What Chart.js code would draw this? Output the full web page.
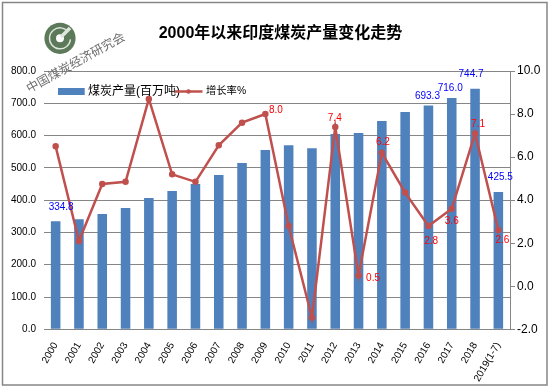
<!DOCTYPE html>
<html><head><meta charset="utf-8">
<style>html,body{margin:0;padding:0;background:#fff}#w{width:551px;height:390px;position:relative}</style>
<script src="https://cdn.jsdelivr.net/npm/chart.js@4/dist/chart.umd.js"></script>
</head><body><div id="w"><canvas id="c" width="551" height="390"></canvas></div>
<script>
const categories=["2000","2001","2002","2003","2004","2005","2006","2007","2008","2009","2010","2011","2012","2013","2014","2015","2016","2017","2018","2019(1-7)"];
const output=[334.8,341,357,376,407,428,450,478,515,555,570,561,605,608,645,673,693.3,716,744.7,425.5];
const growth=[6.5,2.1,4.75,4.85,8.7,5.2,4.85,6.55,7.6,8.0,2.8,-1.45,7.4,0.5,6.2,4.35,2.8,3.6,7.1,2.6];
const outputLabels={0:"334.8",16:"693.3",17:"716.0",18:"744.7",19:"425.5"};
const growthLabels={9:"8.0",12:"7.4",13:"0.5",14:"6.2",16:"2.8",17:"3.6",18:"7.1",19:"2.6"};
const outputOffsets={0:[5.5,-14],16:[-1,-9],17:[-1.5,-10],18:[-4,-15],19:[2,-15]};
const growthOffsets={9:[10.5,-4],12:[-0.5,-9],13:[14.5,3],14:[1,-10.5],16:[2.7,15],17:[0,12],18:[3,-9],19:[4,10]};
const leftTicks=["0.0","100.0","200.0","300.0","400.0","500.0","600.0","700.0","800.0"];
const titleText="2000年以来印度煤炭产量变化走势";
const wmText="中国煤炭经济研究会";
const FONT='"Liberation Sans","Noto Sans CJK SC",sans-serif';
const GRAY='#868686',BLUE='#4f81bd',RED='#c0504d';
const decor={id:'decor',
 beforeDraw(ch){const x=ch.ctx;x.save();x.fillStyle='#fff';x.fillRect(0,0,551,390);
  x.strokeStyle=GRAY;x.lineWidth=1.5;x.strokeRect(2.5,2.5,544.5,382.5);x.restore();},
 afterDraw(ch){const x=ch.ctx;x.save();
  // logo
  x.fillStyle='#5c7a5a';x.beginPath();x.arc(60,38.3,15.6,0,Math.PI*2);x.fill();
  x.strokeStyle='#dfe6dd';x.lineWidth=1.4;x.beginPath();x.arc(60,38.3,10.5,0.1,Math.PI*1.75);x.stroke();
  x.fillStyle='#fff';x.beginPath();x.arc(60,38.3,4,0,Math.PI*2);x.fill();
  x.strokeStyle='#dfe6dd';x.lineWidth=3.5;x.beginPath();x.moveTo(61,37);x.lineTo(70,28);x.stroke();
  // watermark
  x.translate(27,89);x.rotate(-29*Math.PI/180);x.fillStyle='#6f6f6f';x.font='12.3px "Noto Sans CJK SC",serif';x.textAlign='left';x.textBaseline='middle';x.fillText(wmText,0,0);
  x.restore();
  // data labels
  x.save();x.font='10px '+FONT;x.textAlign='center';x.textBaseline='middle';
  const m0=ch.getDatasetMeta(0).data,m1=ch.getDatasetMeta(1).data;
  x.fillStyle='#0000ff';for(const i in outputLabels){const p=m0[i],o=outputOffsets[i];x.fillText(outputLabels[i],p.x+o[0],p.y+o[1]);}
  x.fillStyle='#ff0000';for(const i in growthLabels){const p=m1[i],o=growthOffsets[i];x.fillText(growthLabels[i],p.x+o[0],p.y+o[1]);}
  // legend
  x.textAlign='left';x.font='12px '+FONT;
  x.fillStyle=BLUE;x.fillRect(58,88,26.7,7);
  x.fillStyle='#000';x.fillText(ch.data.datasets[0].label,88,91.5);
  x.strokeStyle=RED;x.lineWidth=2.5;x.beginPath();x.moveTo(175,91.5);x.lineTo(202.5,91.5);x.stroke();
  x.fillStyle=RED;x.beginPath();x.arc(188.5,91.5,2.2,0,Math.PI*2);x.fill();
  x.fillStyle='#000';x.font='10.3px '+FONT;x.fillText(ch.data.datasets[1].label,206,91.5);
  x.restore();}
};
new Chart(document.getElementById('c'),{
 data:{labels:categories,datasets:[
  {type:'bar',label:'煤炭产量(百万吨)',data:output,yAxisID:'y',backgroundColor:BLUE,barPercentage:0.41,categoryPercentage:1,order:2},
  {type:'line',label:'增长率%',data:growth,yAxisID:'y1',borderColor:RED,backgroundColor:RED,borderWidth:2.5,pointRadius:2,pointHoverRadius:2,tension:0,order:1}
 ]},
 plugins:[decor],
 options:{responsive:false,animation:false,devicePixelRatio:1,
  layout:{padding:{left:10,right:0,top:0,bottom:0}},
  plugins:{legend:{display:false},tooltip:{enabled:false},
   title:{display:true,text:titleText,color:'#000',font:{family:FONT,size:16,weight:'bold',lineHeight:1.2},padding:{top:24,bottom:27.8}}},
  scales:{
   x:{grid:{display:false},border:{color:GRAY},
      ticks:{color:'#000',font:{family:FONT,size:10},minRotation:60,maxRotation:60,autoSkip:false,padding:3},
      afterFit(s){s.height=60.7;}},
   y:{position:'left',min:0,max:800,grid:{color:GRAY,tickLength:0},border:{display:false},
      ticks:{stepSize:100,color:'#000',font:{family:FONT,size:10},padding:8,callback:(v)=>leftTicks[Math.round(v/100)]},
      afterFit(s){s.width=34;}},
   y1:{position:'right',min:-2,max:10,grid:{drawOnChartArea:false,color:GRAY,tickLength:5},border:{color:GRAY},
      ticks:{stepSize:2,color:'#000',font:{family:FONT,size:12},padding:2,callback:(v)=>v.toFixed(1)},
      afterFit(s){s.width=41;}}
  }}
});
</script></body></html>
